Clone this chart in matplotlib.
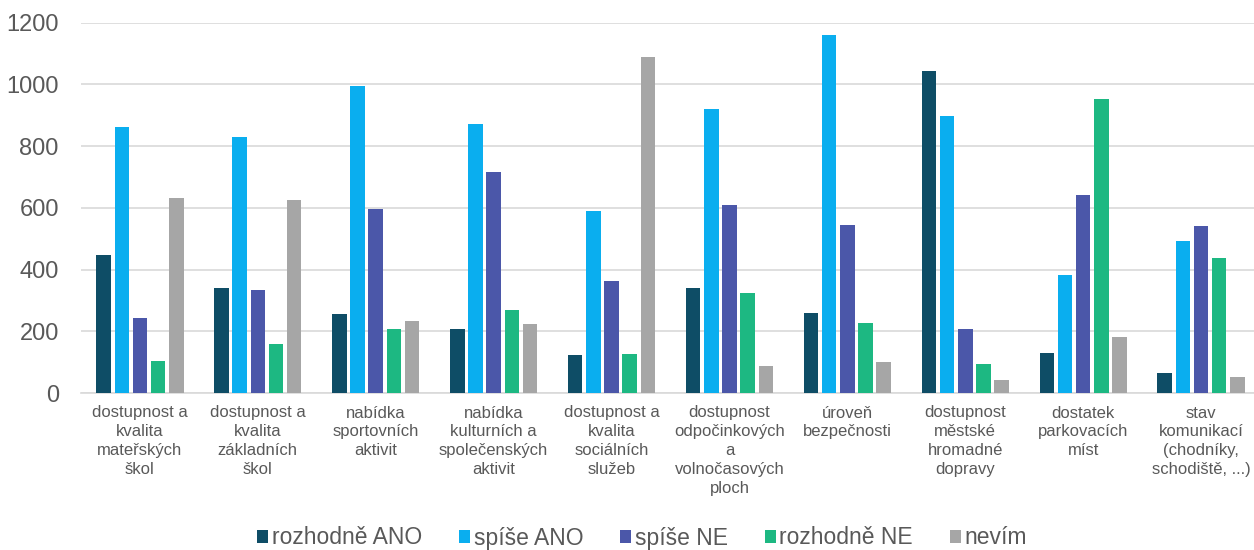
import matplotlib.pyplot as plt
import numpy as np

plt.rcParams['font.family'] = ['Liberation Sans', 'DejaVu Sans']

categories = ['dostupnost a\nkvalita\nmateřských\nškol',
              'dostupnost a\nkvalita\nzákladních\nškol',
              'nabídka\nsportovních\naktivit',
              'nabídka\nkulturních a\nspolečenských\naktivit',
              'dostupnost a\nkvalita\nsociálních\nslužeb',
              'dostupnost\nodpočinkových\na\nvolnočasových\nploch',
              'úroveň\nbezpečnosti',
              'dostupnost\nměstské\nhromadné\ndopravy',
              'dostatek\nparkovacích\nmíst',
              'stav\nkomunikací\n(chodníky,\nschodiště, ...)']

series = ['rozhodně ANO', 'spíše ANO', 'spíše NE', 'rozhodně NE', 'nevím']

rozhodne_ano = [448, 340, 256, 207, 123, 340, 258, 1042, 130, 65]
spise_ano = [863, 831, 996, 872, 590, 920, 1160, 899, 381, 494]
spise_ne = [243, 335, 596, 716, 362, 610, 545, 207, 642, 540]
rozhodne_ne = [103, 159, 207, 270, 126, 325, 227, 95, 952, 439]
nevim = [631, 624, 234, 224, 1088, 89, 99, 43, 183, 52]

values = [rozhodne_ano, spise_ano, spise_ne, rozhodne_ne, nevim]
colors = ['#0E4D66', '#0AAEEF', '#4B57A9', '#1DB882', '#A6A6A6']

fig = plt.figure(figsize=(12.54, 5.5), dpi=100)
ax = fig.add_axes([81/1254, 157/550, 1179/1254, (393-22.7)/550])

x = np.arange(len(categories))
pitch = 0.154
w = 0.123
for i, (vals, c, name) in enumerate(zip(values, colors, series)):
    ax.bar(x + (i - 2) * pitch, vals, width=w, color=c, label=name, zorder=3)

ax.set_xlim(-0.5, len(categories) - 0.5)
ax.set_ylim(0, 1200)
ax.set_yticks(range(0, 1201, 200))
ax.grid(axis='y', color='#D9D9D9', linewidth=1.2, zorder=0)
for s in ['top', 'right', 'left']:
    ax.spines[s].set_visible(False)
ax.spines['bottom'].set_color('#D9D9D9')
ax.spines['bottom'].set_linewidth(1.2)

ax.set_xticks(x)
ax.set_xticklabels(categories, fontsize=12, color='#595959', linespacing=1.32)
ax.tick_params(axis='x', length=0, pad=9)
ax.tick_params(axis='y', length=0, pad=16, labelsize=17, labelcolor='#595959')

leg = fig.legend(loc='center', ncol=5, frameon=False, fontsize=16.5,
                 handlelength=0.5, handleheight=0.5, handletextpad=0.15,
                 columnspacing=1.6, labelcolor='#595959')
leg.set_bbox_to_anchor((0.512, 12/550), transform=fig.transFigure)

fig.savefig('out.png', dpi=100)
